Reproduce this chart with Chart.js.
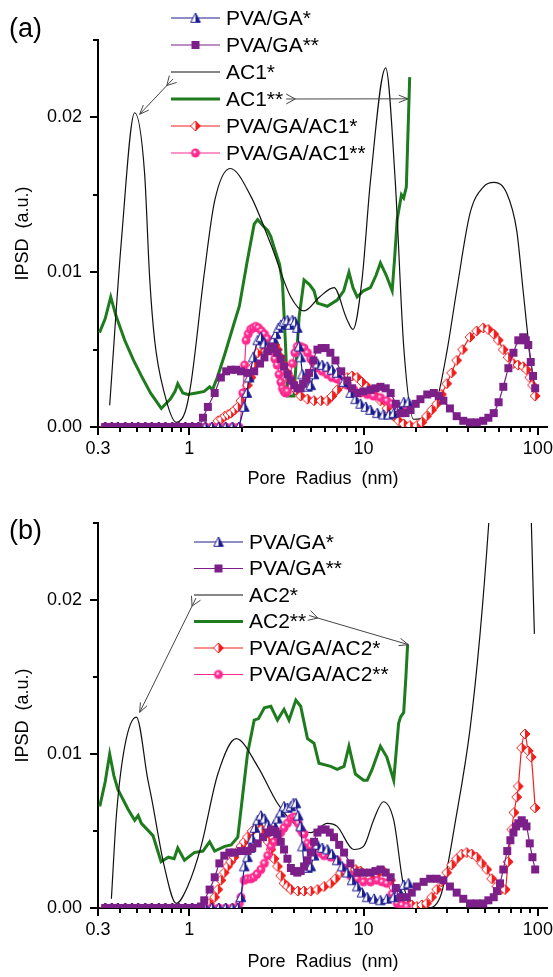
<!DOCTYPE html>
<html><head><meta charset="utf-8">
<script src="https://cdn.jsdelivr.net/npm/chart.js@4.4.1/dist/chart.umd.min.js"></script>
<style>
html,body{margin:0;padding:0;background:#fff;}
#wrap{position:relative;width:553px;height:977px;overflow:hidden;}
canvas{position:absolute;left:0;}
#c1{top:0;} #c2{top:490px;}
</style></head><body>
<div id="wrap"><canvas id="c1" width="553" height="490"></canvas><canvas id="c2" width="553" height="487"></canvas></div>
<script>
// ---------- tick labels / names ----------
const xMajor = [0.3, 1, 10, 100];
const xMajorLabels = ['0.3', '1', '10', '100'];
const xMinor = [0.4,0.5,0.6,0.7,0.8,0.9,2,3,4,5,6,7,8,9,20,30,40,50,60,70,80,90];
const yMajor = [0, 0.01, 0.02];
const yMajorLabels = ['0.00', '0.01', '0.02'];
const legendA = ['PVA/GA*', 'PVA/GA**', 'AC1*', 'AC1**', 'PVA/GA/AC1*', 'PVA/GA/AC1**'];
const legendB = ['PVA/GA*', 'PVA/GA**', 'AC2*', 'AC2**', 'PVA/GA/AC2*', 'PVA/GA/AC2**'];

// ---------- panel (a) : [pore radius nm, IPSD] ----------
const a_PVAGA1 = [[0.33,0],[0.36,0],[0.39,0],[0.43,0],[0.47,0],[0.51,0],[0.56,0],[0.61,0],[0.67,0],[0.73,0],[0.8,0],[0.87,0],[0.95,0],[1.04,0],[1.13,0],[1.24,0],[1.35,0],[1.48,0],[1.62,0],[1.77,0],[1.93,0],
  [2.07,0.0013],[2.14,0.0022],[2.21,0.0032],[2.33,0.0045],[2.47,0.0056],[2.58,0.0058],[2.7,0.0054],[2.82,0.0051],[2.94,0.0052],[3.05,0.0057],[3.15,0.0060],[3.25,0.0064],[3.36,0.0066],[3.5,0.0068],[3.66,0.0069],[3.78,0.0066],[3.91,0.0069],[4.05,0.0068],[4.17,0.0064],[4.27,0.0052],[4.36,0.0045],[4.46,0.0034],[4.56,0.0028],[4.77,0.0026],[4.98,0.0027],[5.2,0.0034],[5.44,0.0041],[5.8,0.0040],[6.2,0.0039],[6.6,0.0037],[7.06,0.0035],[7.7,0.0029],[8.43,0.0022],[9.0,0.0018],[9.61,0.0015],[10.3,0.0013],[10.96,0.0011],[12.0,0.0009],[13.0,0.0008],[14.0,0.0008],[14.9,0.0009],[16,0.0013],[17,0.0016],[18.1,0.0016]];
const a_PVAGA2 = [[0.33,0],[0.36,0],[0.39,0],[0.43,0],[0.47,0],[0.51,0],[0.56,0],[0.61,0],[0.67,0],[0.73,0],[0.8,0],[0.87,0],[0.95,0],[1.04,0],[1.13,0],
  [1.2,0.0006],[1.28,0.0013],[1.4,0.0022],[1.52,0.0032],[1.63,0.0036],[1.74,0.0037],[1.86,0.0037],[1.98,0.0036],[2.16,0.0035],[2.36,0.0036],[2.55,0.0041],[2.7,0.0045],[2.82,0.0049],[2.94,0.0052],[3.07,0.0051],[3.2,0.0048],[3.35,0.0044],[3.5,0.0039],[3.66,0.0034],[3.83,0.0030],[4.0,0.0027],[4.17,0.0025],[4.35,0.0025],[4.5,0.0028],[4.7,0.0031],[4.87,0.0035],[5.15,0.0043],[5.44,0.0050],[5.75,0.0051],[6.06,0.0051],[6.45,0.0048],[6.9,0.0043],[7.45,0.0036],[8.07,0.0030],[8.6,0.0025],[9.2,0.0022],[10.0,0.0023],[10.96,0.0024],[11.7,0.0025],[12.5,0.0026],[13.4,0.0025],[14.3,0.0022],[15.3,0.0015],[16.3,0.0009],[17.4,0.0009],[18.6,0.0011],[19.9,0.0015],[21.2,0.0018],[23.2,0.0021],[25.3,0.0022],[27,0.0020],[28.7,0.0017],[31.3,0.0012],[34.2,0.0007],[37.3,0.0004],[40.8,0.0003],[44.6,0.0003],[48.6,0.0004],[52,0.0006],[55.8,0.0009],[59.5,0.0016],[63.3,0.0026],[67.7,0.0038],[72.4,0.0048],[77.2,0.0056],[82.3,0.0058],[85.2,0.0056],[88,0.0053],[91,0.0042],[93.8,0.0033],[96.5,0.0025]];
const a_AC1 = [[0.35,0.0014],[0.409,0.0121],[0.487,0.0203],[0.555,0.0164],[0.593,0.0097],[0.634,0.0056],[0.72,0.0022],[0.843,0.0003],[0.95,0.0010],[1.03,0.0030],[1.22,0.0099],[1.40,0.0146],[1.72,0.0167],[2.26,0.0149],[2.94,0.0118],[3.83,0.0084],[4.56,0.0075],[5.6,0.0084],[6.77,0.0090],[8.0,0.0070],[8.7,0.0063],[9.8,0.0095],[10.96,0.0159],[13.4,0.0232],[15.2,0.0159],[17.0,0.0052],[19.4,0.0005],[23,0.0007],[26.3,0.0017],[30,0.0048],[34.2,0.0088],[40.8,0.0138],[48.6,0.0155],[56.1,0.0158],[66.3,0.0151],[75.6,0.0127],[82.3,0.0088],[89.8,0.0048],[96.5,0.0022]];
const a_AC1b = [[0.306,0.0061],[0.33,0.0070],[0.355,0.0084],[0.38,0.0072],[0.427,0.0056],[0.48,0.0043],[0.532,0.0033],[0.60,0.0022],[0.692,0.0012],[0.78,0.0018],[0.83,0.0023],[0.86,0.0028],[0.92,0.0022],[0.98,0.0021],[1.1,0.0022],[1.22,0.0023],[1.31,0.0026],[1.36,0.0024],[1.45,0.0032],[1.6,0.0047],[1.81,0.0067],[1.94,0.0078],[2.16,0.0108],[2.36,0.0131],[2.47,0.0134],[2.65,0.0130],[2.82,0.0127],[2.94,0.0123],[3.07,0.0116],[3.3,0.0105],[3.43,0.0093],[3.58,0.0050],[3.66,0.0020],[3.99,0.0020],[4.27,0.0071],[4.56,0.0095],[4.9,0.0092],[5.2,0.0088],[5.44,0.0080],[6.2,0.0078],[7.06,0.0082],[7.7,0.0088],[8.25,0.0100],[8.7,0.0090],[9.2,0.0084],[10.0,0.0088],[10.96,0.0090],[11.8,0.0098],[12.5,0.0106],[13.5,0.0098],[14.6,0.0088],[15.1,0.0110],[15.6,0.0134],[16.5,0.0150],[17.0,0.0148],[17.6,0.0155],[18.4,0.0226]];
const a_PVAGAAC1a = [[0.33,0],[0.36,0],[0.39,0],[0.43,0],[0.47,0],[0.51,0],[0.56,0],[0.61,0],[0.67,0],[0.73,0],[0.8,0],[0.87,0],[0.95,0],[1.04,0],[1.13,0],[1.24,0],[1.35,0],
  [1.46,0.0004],[1.53,0.0005],[1.6,0.0007],[1.67,0.0008],[1.74,0.0009],[1.82,0.0011],[1.9,0.0013],[1.98,0.0017],[2.07,0.0022],[2.16,0.0027],[2.26,0.0032],[2.36,0.0040],[2.47,0.0048],[2.56,0.0052],[2.65,0.0054],[2.82,0.0056],[3.0,0.0055],[3.1,0.0053],[3.21,0.0050],[3.35,0.0045],[3.5,0.0040],[3.66,0.0035],[3.83,0.0030],[4.1,0.0024],[4.36,0.0020],[4.77,0.0018],[5.2,0.0017],[5.7,0.0017],[6.2,0.0017],[6.6,0.0020],[7.06,0.0024],[7.55,0.0028],[8.07,0.0032],[8.6,0.0033],[9.2,0.0032],[9.8,0.0029],[10.5,0.0026],[11.5,0.0021],[12.5,0.0017],[13.6,0.0012],[14.9,0.0007],[15.9,0.0004],[17,0.0002],[18.5,0.0001],[20.2,0.0001],[21.6,0.0003],[23,0.0007],[24.6,0.0011],[26.3,0.0015],[28,0.0021],[30,0.0028],[32,0.0035],[34.2,0.0043],[37,0.0050],[40.8,0.0058],[44.5,0.0062],[48.6,0.0064],[52,0.0063],[55.8,0.0060],[59.3,0.0056],[63.3,0.0050],[67.5,0.0045],[72.4,0.0041],[77,0.0040],[82.3,0.0039],[86,0.0037],[89.8,0.0032],[93.2,0.0027],[96.5,0.0020]];
const a_PVAGAAC1b = [[0.33,0],[0.36,0],[0.39,0],[0.43,0],[0.47,0],[0.51,0],[0.56,0],[0.61,0],[0.67,0],[0.73,0],[0.8,0],[0.87,0],[0.95,0],[1.04,0],[1.13,0],[1.24,0],[1.35,0],[1.48,0],[1.62,0],[1.77,0],[1.93,0],
  [2.03,0.0022],[2.08,0.0040],[2.12,0.0056],[2.18,0.0060],[2.25,0.0063],[2.33,0.0064],[2.41,0.0065],[2.5,0.0064],[2.6,0.0062],[2.7,0.0060],[2.82,0.0057],[2.9,0.0053],[3.0,0.0049],[3.1,0.0044],[3.2,0.0040],[3.28,0.0034],[3.36,0.0029],[3.43,0.0025],[3.5,0.0023],[3.58,0.0022],[3.66,0.0023],[3.78,0.0032],[3.91,0.0041],[4.04,0.0048],[4.17,0.0052],[4.36,0.0052],[4.56,0.0051],[4.77,0.0048],[4.98,0.0044],[5.2,0.0041],[5.44,0.0038],[5.8,0.0036],[6.2,0.0034],[6.6,0.0032],[7.06,0.0031],[7.55,0.0029],[8.07,0.0027],[8.8,0.0024],[9.61,0.0022],[10.5,0.0021],[11.4,0.0020],[12.5,0.0019],[13.6,0.0017],[14.6,0.0015],[15.6,0.0013],[16.7,0.0013],[17.8,0.0013]];

// ---------- panel (b) ----------
const b_PVAGA1 = [[0.33,0],[0.36,0],[0.39,0],[0.43,0],[0.47,0],[0.51,0],[0.56,0],[0.61,0],[0.67,0],[0.73,0],[0.8,0],[0.87,0],[0.95,0],[1.04,0],[1.13,0],[1.24,0],[1.35,0],[1.48,0],[1.62,0],[1.77,0],[1.9,0],
  [1.98,0.0007],[2.07,0.0027],[2.16,0.0033],[2.23,0.0039],[2.3,0.0045],[2.38,0.0052],[2.47,0.0057],[2.58,0.0060],[2.7,0.0058],[2.82,0.0054],[2.94,0.0050],[3.07,0.0054],[3.21,0.0058],[3.35,0.0062],[3.5,0.0066],[3.66,0.0065],[3.83,0.0066],[3.96,0.0068],[4.09,0.0068],[4.22,0.0060],[4.36,0.0053],[4.46,0.0040],[4.56,0.0027],[4.77,0.0026],[4.98,0.0027],[5.2,0.0034],[5.44,0.0041],[5.8,0.0039],[6.2,0.0038],[6.6,0.0035],[7.06,0.0031],[7.55,0.0027],[8.07,0.0023],[8.6,0.0018],[9.2,0.0014],[9.8,0.0010],[10.5,0.0007],[11.5,0.0006],[12.5,0.0005],[13.6,0.0006],[14.9,0.0007],[16,0.0011],[17,0.0015],[18.1,0.0016]];
const b_PVAGA2 = [[0.33,0],[0.36,0],[0.39,0],[0.43,0],[0.47,0],[0.51,0],[0.56,0],[0.61,0],[0.67,0],[0.73,0],[0.8,0],[0.87,0],[0.95,0],[1.04,0],[1.12,0],
  [1.17,0.0001],[1.22,0.0005],[1.31,0.0012],[1.4,0.0020],[1.49,0.0029],[1.59,0.0034],[1.7,0.0036],[1.81,0.0036],[1.98,0.0037],[2.16,0.0037],[2.3,0.0039],[2.47,0.0042],[2.65,0.0046],[2.82,0.0049],[2.94,0.0051],[3.07,0.0050],[3.21,0.0048],[3.35,0.0043],[3.5,0.0038],[3.66,0.0032],[3.83,0.0026],[4.0,0.0024],[4.17,0.0023],[4.36,0.0024],[4.56,0.0027],[4.77,0.0031],[4.98,0.0036],[5.2,0.0043],[5.44,0.0049],[5.75,0.0051],[6.06,0.0051],[6.4,0.0049],[6.77,0.0046],[7.25,0.0041],[7.73,0.0036],[8.4,0.0029],[9.2,0.0023],[10.0,0.0023],[10.96,0.0023],[11.7,0.0024],[12.5,0.0025],[13.4,0.0023],[14.3,0.0020],[15.3,0.0013],[16.3,0.0007],[17.7,0.0007],[18.9,0.0010],[20.2,0.0014],[22.1,0.0017],[24.1,0.0019],[26.3,0.0019],[28.7,0.0018],[31.3,0.0014],[34.2,0.0010],[37.3,0.0006],[40.8,0.0003],[44.6,0.0003],[48.6,0.0003],[52,0.0005],[55.8,0.0007],[58.2,0.0011],[60.6,0.0016],[63.3,0.0025],[66.7,0.0037],[69.5,0.0044],[72.4,0.0049],[75,0.0053],[77.2,0.0055],[80.7,0.0057],[83.3,0.0055],[86,0.0053],[89.8,0.0042],[93,0.0033],[96.5,0.0025]];
const b_AC2 = [[0.358,0.0006],[0.383,0.0061],[0.427,0.0105],[0.498,0.0124],[0.58,0.0083],[0.607,0.0072],[0.72,0.0027],[0.843,0.0003],[0.98,0.0014],[1.17,0.0040],[1.46,0.0087],[1.86,0.0110],[2.47,0.0092],[3.21,0.0068],[4.17,0.0053],[4.98,0.0049],[6.2,0.0055],[7.06,0.0053],[8.78,0.0038],[10,0.0040],[11.5,0.0058],[13.0,0.0069],[14.9,0.0057],[17,0.0014],[19.4,0.0003],[23,0.0000],[27.5,0.0007],[34.2,0.0061],[40.8,0.0116],[46.6,0.0178],[52.2,0.0249],[60,0.036],[75,0.045],[88,0.035],[91.5,0.0255],[95.5,0.0178]];
const b_AC2b = [[0.307,0.0066],[0.33,0.0082],[0.35,0.0100],[0.37,0.0086],[0.39,0.0077],[0.447,0.0064],[0.487,0.0057],[0.51,0.0060],[0.532,0.0055],[0.62,0.0047],[0.69,0.0030],[0.76,0.0033],[0.82,0.0032],[0.86,0.0039],[0.94,0.0031],[1.07,0.0036],[1.2,0.0037],[1.31,0.0043],[1.4,0.0037],[1.6,0.0040],[1.74,0.0041],[1.9,0.0046],[2.16,0.0100],[2.36,0.0122],[2.5,0.0123],[2.7,0.0130],[2.94,0.0131],[3.21,0.0122],[3.5,0.0129],[3.74,0.0122],[4.09,0.0135],[4.36,0.0131],[4.77,0.0110],[5.2,0.0107],[5.55,0.0094],[6.48,0.0092],[7.06,0.0090],[7.73,0.0092],[8.25,0.0105],[8.98,0.0087],[10.0,0.0083],[10.5,0.0083],[11.2,0.0090],[12.5,0.0105],[13.6,0.0098],[14.9,0.0083],[15.9,0.0120],[16.3,0.0124],[17.0,0.0127],[17.5,0.0150],[17.9,0.0171]];
const b_PVAGAAC2a = [[0.33,0],[0.36,0],[0.39,0],[0.43,0],[0.47,0],[0.51,0],[0.56,0],[0.61,0],[0.67,0],[0.73,0],[0.8,0],[0.87,0],[0.95,0],[1.04,0],[1.13,0],
  [1.22,0.0001],[1.31,0.0003],[1.4,0.0007],[1.46,0.0012],[1.52,0.0018],[1.59,0.0023],[1.66,0.0027],[1.73,0.0030],[1.81,0.0033],[1.9,0.0037],[1.98,0.0040],[2.07,0.0043],[2.16,0.0046],[2.3,0.0050],[2.47,0.0054],[2.6,0.0051],[2.75,0.0047],[2.84,0.0043],[2.94,0.0038],[3.07,0.0032],[3.21,0.0027],[3.35,0.0021],[3.5,0.0016],[3.66,0.0014],[3.83,0.0012],[4.2,0.0011],[4.56,0.0011],[4.98,0.0011],[5.44,0.0012],[5.94,0.0014],[6.48,0.0016],[6.9,0.0019],[7.39,0.0023],[7.9,0.0024],[8.43,0.0025],[9.0,0.0025],[9.61,0.0024],[10.3,0.0022],[10.96,0.0020],[12,0.0022],[13,0.0024],[14.3,0.0018],[15.6,0.0010],[16.6,0.0006],[17.7,0.0003],[18.9,0.0002],[20.2,0.0001],[21.6,0.0002],[23,0.0003],[24.6,0.0007],[26.3,0.0012],[28,0.0017],[30,0.0023],[32,0.0028],[34.2,0.0032],[36.5,0.0035],[39,0.0036],[41.7,0.0035],[44.5,0.0033],[47.6,0.0029],[50.9,0.0025],[54.3,0.0019],[58,0.0014],[61.5,0.0012],[64.9,0.0012],[67.5,0.0030],[70.8,0.0051],[73,0.0062],[75.6,0.0072],[77.2,0.0079],[80.7,0.0104],[84.3,0.0113],[88,0.0102],[91.5,0.0098],[96.5,0.0065]];
const b_PVAGAAC2b = [[0.33,0],[0.36,0],[0.39,0],[0.43,0],[0.47,0],[0.51,0],[0.56,0],[0.61,0],[0.67,0],[0.73,0],[0.8,0],[0.87,0],[0.95,0],[1.04,0],[1.13,0],[1.24,0],[1.35,0],[1.48,0],[1.62,0],[1.77,0],
  [1.94,0.0003],[1.98,0.0007],[2.07,0.0018],[2.16,0.0019],[2.26,0.0019],[2.35,0.0020],[2.45,0.0022],[2.58,0.0025],[2.7,0.0029],[2.82,0.0034],[2.94,0.0040],[3.07,0.0043],[3.21,0.0046],[3.35,0.0049],[3.5,0.0052],[3.66,0.0055],[3.83,0.0058],[3.96,0.0059],[4.09,0.0059],[4.22,0.0055],[4.36,0.0051],[4.46,0.0049],[4.56,0.0048],[4.77,0.0042],[4.98,0.0040],[5.2,0.0038],[5.55,0.0036],[5.94,0.0034],[6.48,0.0033],[7.06,0.0031],[7.7,0.0026],[8.43,0.0021],[9.2,0.0019],[10,0.0017],[11,0.0017],[12,0.0018],[12.8,0.0017],[13.6,0.0016],[14.6,0.0009],[15.6,0.0003],[16.6,0.0002],[17.7,0.0001]];

// ---------- styles ----------
const FONT = "'Liberation Sans', Arial, Helvetica, sans-serif";
const C_BLUE = '#1c1c8f', C_PURPLE = '#7d1f89', C_BLACK = '#111111', C_GREEN = '#1e7b1e', C_RED = '#f21f1f', C_PINK = '#ff2a8f';

function marker(kind, color) {
  const s = 12, c = document.createElement('canvas');
  c.width = s; c.height = s;
  const g = c.getContext('2d');
  g.lineWidth = 1; g.strokeStyle = color; g.fillStyle = color;
  function path() {
    g.beginPath();
    if (kind === 'tri') { g.moveTo(6, 1); g.lineTo(10.8, 10.3); g.lineTo(1.2, 10.3); g.closePath(); }
    else if (kind === 'dia') { g.moveTo(6, 1); g.lineTo(11, 6); g.lineTo(6, 11); g.lineTo(1, 6); g.closePath(); }
  }
  if (kind === 'sq') { g.fillRect(2, 2, 8, 8); }
  else if (kind === 'cir') {
    g.beginPath(); g.arc(6, 6, 4.5, 0, Math.PI * 2); g.fill();
    g.fillStyle = '#ffd0e6'; g.beginPath(); g.arc(5.2, 5, 1.5, 0, Math.PI * 2); g.fill();
  } else {
    g.fillStyle = '#fff'; path(); g.fill();
    g.save(); g.beginPath(); g.rect(6, 0, 6, 12); g.clip(); g.fillStyle = color; path(); g.fill(); g.restore();
    path(); g.stroke();
  }
  return c;
}
const IMG_TRI = marker('tri', C_BLUE), IMG_SQ = marker('sq', C_PURPLE), IMG_DIA = marker('dia', C_RED), IMG_CIR = marker('cir', C_PINK);

function ds(pairs, color, width, img, smooth) {
  return {
    data: pairs.map(p => ({x: p[0], y: p[1]})),
    borderColor: color, backgroundColor: color, borderWidth: width,
    pointStyle: img || false, pointRadius: img ? 4 : 0, pointHoverRadius: img ? 4 : 0,
    cubicInterpolationMode: smooth ? 'monotone' : 'default', tension: 0, fill: false
  };
}

const deco = {
  id: 'deco',
  afterDraw(chart, args, o) {
    const ctx = chart.ctx, xs = chart.scales.x, ys = chart.scales.y, a = chart.chartArea;
    ctx.save();
    // tick marks
    ctx.strokeStyle = '#000000'; ctx.lineWidth = 2;
    const xt = xMajor.concat(xMinor);
    xt.forEach(v => {
      const p = Math.round(xs.getPixelForValue(v));
      const major = xMajor.indexOf(v) >= 0;
      ctx.beginPath(); ctx.moveTo(p, a.bottom); ctx.lineTo(p, a.bottom + (major ? 8 : 5)); ctx.stroke();
    });
    [0, 0.005, 0.01, 0.015, 0.02, 0.025].forEach((v, i) => {
      const p = Math.round(ys.getPixelForValue(v));
      const major = i % 2 === 0;
      ctx.beginPath(); ctx.moveTo(a.left, p); ctx.lineTo(a.left - (major ? 8 : 5), p); ctx.stroke();
    });
    // panel label
    ctx.fillStyle = '#000'; ctx.font = '27px ' + FONT; ctx.textBaseline = 'middle'; ctx.textAlign = 'left';
    ctx.fillText(o.panel, 9, o.panelY);
    // legend
    const L = o.legend;
    ctx.font = '21px ' + FONT;
    L.items.forEach((it, i) => {
      const y = L.y0 + i * L.dy;
      ctx.strokeStyle = it.color; ctx.lineWidth = it.w;
      ctx.beginPath(); ctx.moveTo(L.x0, y); ctx.lineTo(L.x1, y); ctx.stroke();
      if (it.img) ctx.drawImage(it.img, (L.x0 + L.x1) / 2 - it.img.width / 2, y - it.img.height / 2);
      ctx.fillStyle = '#000'; ctx.fillText(it.text, L.tx, y + 1);
      it._end = L.tx + ctx.measureText(it.text).width;
      it._y = y;
    });
    // arrows
    ctx.strokeStyle = '#444'; ctx.lineWidth = 1;
    o.arrows.forEach(ar => {
      const it = L.items[ar.item];
      const tx = ar.fromText ? it._end + ar.dx : ar.dx;
      const ty = it._y + ar.dy;
      const px = xs.getPixelForValue(ar.tip[0]), py = ys.getPixelForValue(ar.tip[1]);
      const ang = Math.atan2(py - ty, px - tx);
      ctx.beginPath(); ctx.moveTo(tx, ty); ctx.lineTo(px, py); ctx.stroke();
      const h = 10, sp = 0.38;
      ctx.beginPath();
      ctx.moveTo(px - h * Math.cos(ang - sp), py - h * Math.sin(ang - sp));
      ctx.lineTo(px, py);
      ctx.lineTo(px - h * Math.cos(ang + sp), py - h * Math.sin(ang + sp));
      ctx.stroke();
      const fx = tx + 9 * Math.cos(ang), fy = ty + 9 * Math.sin(ang);
      ctx.beginPath();
      ctx.moveTo(tx + 5 * Math.cos(ang + Math.PI / 2), ty + 5 * Math.sin(ang + Math.PI / 2));
      ctx.lineTo(fx, fy);
      ctx.lineTo(tx + 5 * Math.cos(ang - Math.PI / 2), ty + 5 * Math.sin(ang - Math.PI / 2));
      ctx.stroke();
    });
    ctx.restore();
  }
};

function makeChart(id, H, top, bottom, datasets, decoOpts, xTitlePad) {
  return new Chart(document.getElementById(id), {
    type: 'line',
    data: {datasets},
    plugins: [deco],
    options: {
      responsive: false, animation: false, maintainAspectRatio: false,
      layout: {padding: {top: top, right: 5, left: 0, bottom: 0}},
      plugins: {legend: {display: false}, tooltip: {enabled: false}, deco: decoOpts},
      scales: {
        x: {
          type: 'logarithmic', min: 0.3, max: 114,
          afterBuildTicks: s => { s.ticks = xMajor.concat(xMinor).sort((p, q) => p - q).map(v => ({value: v})); },
          afterFit: s => { s.height = H - bottom; s.paddingLeft = 0; s.paddingRight = 0; s.paddingTop = 0; s.paddingBottom = 0; },
          grid: {display: false, drawTicks: false},
          border: {display: true, color: '#000', width: 2},
          ticks: {autoSkip: false, maxRotation: 0, padding: 11, color: '#000', font: {family: FONT, size: 18},
            callback: v => { const i = xMajor.indexOf(v); return i >= 0 ? xMajorLabels[i] : ''; }},
          title: {display: true, text: 'Pore  Radius  (nm)', color: '#000', font: {family: FONT, size: 18}, padding: {top: 0, bottom: xTitlePad}}
        },
        y: {
          min: 0, max: 0.025,
          afterFit: s => { s.width = 98; s.paddingTop = 0; s.paddingBottom = 0; s.paddingLeft = 0; s.paddingRight = 0; },
          grid: {display: false, drawTicks: false},
          border: {display: true, color: '#000', width: 2},
          ticks: {stepSize: 0.005, autoSkip: false, padding: 16, color: '#000', font: {family: FONT, size: 18},
            callback: v => { const i = yMajor.findIndex(m => Math.abs(m - v) < 1e-7); return i >= 0 ? yMajorLabels[i] : ''; }},
          title: {display: true, text: 'IPSD  (a.u.)', color: '#000', font: {family: FONT, size: 18}, padding: {top: 12, bottom: 0}}
        }
      }
    }
  });
}

makeChart('c1', 490, 40, 427, [
  ds(a_PVAGA2, C_PURPLE, 1.2, IMG_SQ, true),
  ds(a_PVAGA1, C_BLUE, 1.2, IMG_TRI, false),
  ds(a_PVAGAAC1b, C_PINK, 1.2, IMG_CIR, true),
  ds(a_PVAGAAC1a, C_RED, 1.2, IMG_DIA, true),
  ds(a_AC1, C_BLACK, 1.2, null, true),
  ds(a_AC1b, C_GREEN, 3, null, false)
], {
  panel: '(a)', panelY: 30,
  legend: {x0: 171, x1: 220, tx: 226, y0: 18, dy: 27, items: [
    {text: legendA[0], color: C_BLUE, w: 1.2, img: IMG_TRI},
    {text: legendA[1], color: C_PURPLE, w: 1.2, img: IMG_SQ},
    {text: legendA[2], color: C_BLACK, w: 1.2},
    {text: legendA[3], color: C_GREEN, w: 3},
    {text: legendA[4], color: C_RED, w: 1.2, img: IMG_DIA},
    {text: legendA[5], color: C_PINK, w: 1.2, img: IMG_CIR}
  ]},
  arrows: [
    {item: 2, fromText: false, dx: 173, dy: 7, tip: [0.52, 0.0202]},
    {item: 3, fromText: true, dx: 3, dy: 0, tip: [18.0, 0.0212]}
  ]
}, 0);

makeChart('c2', 487, 33, 418, [
  ds(b_PVAGA2, C_PURPLE, 1.2, IMG_SQ, true),
  ds(b_PVAGA1, C_BLUE, 1.2, IMG_TRI, false),
  ds(b_PVAGAAC2b, C_PINK, 1.2, IMG_CIR, true),
  ds(b_PVAGAAC2a, C_RED, 1.2, IMG_DIA, true),
  ds(b_AC2, C_BLACK, 1.2, null, true),
  ds(b_AC2b, C_GREEN, 3, null, false)
], {
  panel: '(b)', panelY: 42,
  legend: {x0: 194, x1: 243, tx: 249, y0: 52, dy: 26.5, items: [
    {text: legendB[0], color: C_BLUE, w: 1.2, img: IMG_TRI},
    {text: legendB[1], color: C_PURPLE, w: 1.2, img: IMG_SQ},
    {text: legendB[2], color: C_BLACK, w: 1.2},
    {text: legendB[3], color: C_GREEN, w: 3},
    {text: legendB[4], color: C_RED, w: 1.2, img: IMG_DIA},
    {text: legendB[5], color: C_PINK, w: 1.2, img: IMG_CIR}
  ]},
  arrows: [
    {item: 2, fromText: false, dx: 196, dy: 3, tip: [0.52, 0.0127]},
    {item: 3, fromText: true, dx: 3, dy: -6, tip: [18.1, 0.0171]}
  ]
}, 4);
</script></body></html>
